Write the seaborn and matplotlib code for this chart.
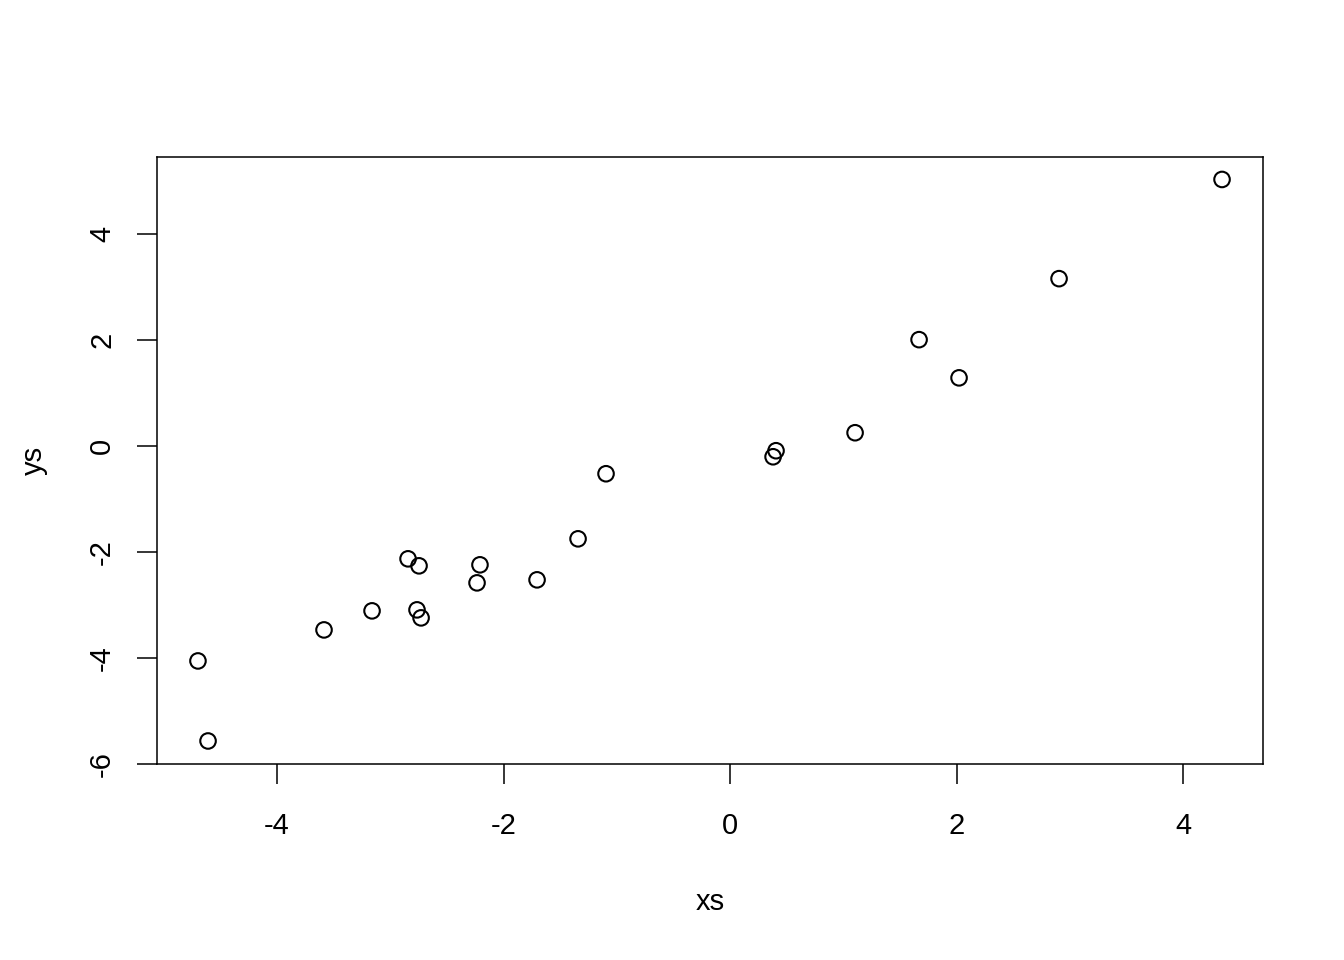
import matplotlib
matplotlib.use("Agg")
import matplotlib.pyplot as plt
import seaborn as sns
import pandas as pd

xs = [4.344, 2.905, 1.669, 2.022, 1.104, 0.406, 0.380, -1.095, -1.342, -1.704,
      -2.208, -2.234, -2.843, -2.746, -2.764, -2.728, -3.161, -3.585, -4.698, -4.609]
ys = [5.02, 3.15, 2.00, 1.28, 0.245, -0.094, -0.208, -0.528, -1.755, -2.528,
      -2.245, -2.585, -2.132, -2.264, -3.094, -3.245, -3.113, -3.472, -4.057, -5.566]
xticks = [-4, -2, 0, 2, 4]
yticks = [-6, -4, -2, 0, 2, 4]

sns.set_style("white")
plt.rcParams['font.family'] = ['Liberation Sans', 'DejaVu Sans']
plt.rcParams['text.color'] = 'black'
plt.rcParams['axes.labelcolor'] = 'black'
plt.rcParams['xtick.color'] = 'black'
plt.rcParams['ytick.color'] = 'black'

df = pd.DataFrame({"xs": xs, "ys": ys})
fig = plt.figure(figsize=(13.44, 9.6), dpi=100)
ax = fig.add_axes([157/1344, 1 - 764/960, (1263-157)/1344, (764-157)/960])
sns.scatterplot(data=df, x="xs", y="ys", ax=ax, marker="o", s=125,
                facecolor="none", edgecolor="black", linewidth=1.5)

def pad(v):
    lo, hi = min(v), max(v)
    e = (hi - lo) * 0.04
    return lo - e, hi + e

ax.set_xlim(*pad(xs))
ax.set_ylim(*pad(ys))
ax.set_xticks(xticks)
ax.set_yticks(yticks)
ax.set_xticklabels([str(t) for t in xticks])
ax.set_yticklabels([str(t) for t in yticks])
ax.tick_params(axis="both", direction="out", length=14.5, width=1.1, color="black",
               labelcolor="black", labelsize=21, bottom=True, left=True)
ax.tick_params(axis="x", pad=20)
ax.tick_params(axis="y", pad=15)
for lab in ax.get_yticklabels():
    lab.set_rotation(90)
    lab.set_va("center")
for sp in ax.spines.values():
    sp.set_color("black")
    sp.set_linewidth(1.1)
ax.set_xlabel("xs", fontsize=21, labelpad=34.5, color="black")
ax.set_ylabel("ys", fontsize=21, labelpad=29, color="black")
fig.savefig("out.png", dpi=100)
